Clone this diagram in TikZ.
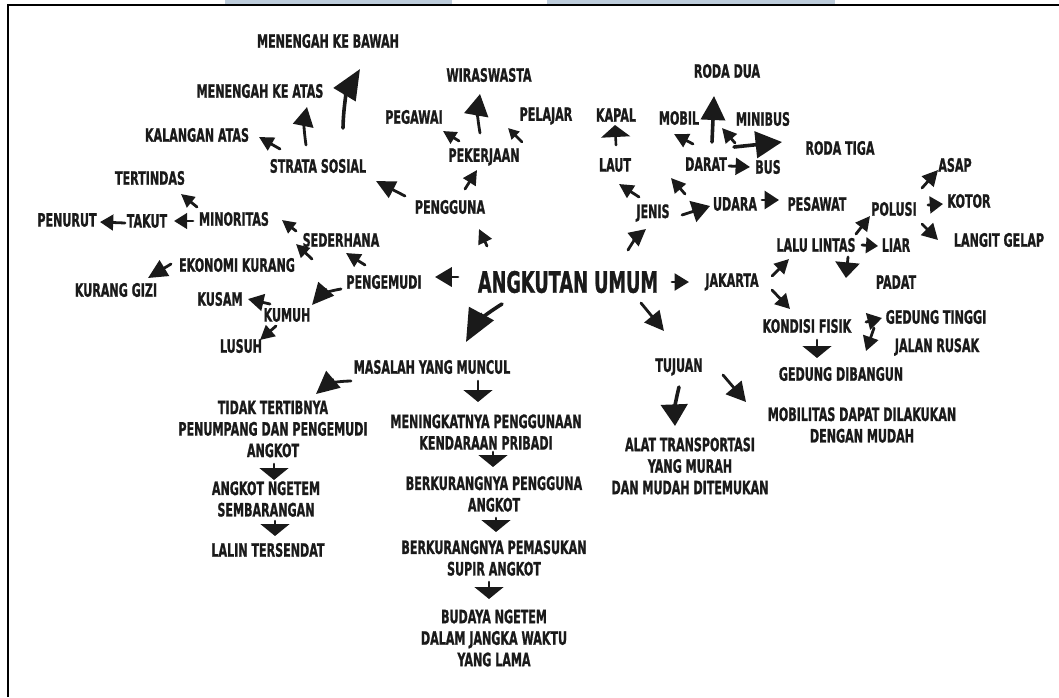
\documentclass[tikz,border=0pt]{standalone}
\usepackage{fontspec}
\newfontfamily\hand{DejaVu Sans}[FakeStretch=0.6,FakeBold=1]
\usetikzlibrary{arrows.meta}
\definecolor{ink}{HTML}{1A1A1A}
\definecolor{bar}{HTML}{BDCCDB}

\begin{document}
\begin{tikzpicture}[x=1pt,y=-1pt,
    every node/.style={font=\hand\bfseries\fontsize{18.5}{21.5}\selectfont,text=ink,align=center,inner sep=1pt},
    title/.style={font=\hand\bfseries\fontsize{29.5}{30}\selectfont},
    arw/.style args={#1/#2}{draw=ink,line width=2.8pt,line cap=round,-{Triangle[length=#1pt,width=#2pt,scale=1.2]}},
    heavy/.style={line width=3.6pt},
    flat/.style={arw=10/24,line width=2.6pt}
    ]
    \useasboundingbox (0,0) rectangle (1059,697);
    % frame
    \fill[bar] (225,0) rectangle (452,5);
    \fill[bar] (547,0) rectangle (835,5);
    \draw[line width=1.2pt] (8,697) -- (8,5) -- (1059,5);

    % centre
    \node[title] (angkutan) at (568,282) {ANGKUTAN UMUM};

    % pengguna
    \node (pengguna) at (450,207) {PENGGUNA};
    \node (pekerjaan) at (484,157) {PEKERJAAN};
    \node (wiraswasta) at (489,75) {WIRASWASTA};
    \node (pegawai) at (414,117) {PEGAWAI};
    \node (pelajar) at (546,116) {PELAJAR};
    \node (strata) at (318,166) {STRATA SOSIAL};
    \node (bawah) at (328,41) {MENENGAH KE BAWAH};
    \node (atas) at (260,91) {MENENGAH KE ATAS};
    \node (kalangan) at (197,135) {KALANGAN ATAS};

    % pengemudi
    \node (pengemudi) at (384,282) {PENGEMUDI};
    \node (sederhana) at (341,240) {SEDERHANA};
    \node (minoritas) at (234,219) {MINORITAS};
    \node (takut) at (147,221) {TAKUT};
    \node (penurut) at (67,220) {PENURUT};
    \node (tertindas) at (150,178) {TERTINDAS};
    \node (ekonomi) at (237,265) {EKONOMI KURANG};
    \node (gizi) at (116,290) {KURANG GIZI};
    \node (kumuh) at (287,315) {KUMUH};
    \node (kusam) at (220,299) {KUSAM};
    \node (lusuh) at (241,346) {LUSUH};

    % masalah
    \node (masalah) at (432,367) {MASALAH YANG MUNCUL};
    \node (tidak) at (273,429) {TIDAK TERTIBNYA\\PENUMPANG DAN PENGEMUDI\\ANGKOT};
    \node (ngetem) at (266,499) {ANGKOT NGETEM\\SEMBARANGAN};
    \node (lalin) at (268,550) {LALIN TERSENDAT};
    \node (meningkat) at (486,432) {MENINGKATNYA PENGGUNAAN\\KENDARAAN PRIBADI};
    \node (kurang1) at (494,494) {BERKURANGNYA PENGGUNA\\ANGKOT};
    \node (kurang2) at (494,558) {BERKURANGNYA PEMASUKAN\\SUPIR ANGKOT};
    \node (budaya) at (494,638) {BUDAYA NGETEM\\DALAM JANGKA WAKTU\\YANG LAMA};

    % jenis
    \node (jenis) at (653,213) {JENIS};
    \node (laut) at (615,165) {LAUT};
    \node (kapal) at (616,115) {KAPAL};
    \node (darat) at (706,164) {DARAT};
    \node (mobil) at (679,118) {MOBIL};
    \node (rodadua) at (727,71) {RODA DUA};
    \node (minibus) at (763,119) {MINIBUS};
    \node (rodatiga) at (840,148) {RODA TIGA};
    \node (bus) at (768,167) {BUS};
    \node (udara) at (735,204) {UDARA};
    \node (pesawat) at (817,204) {PESAWAT};

    % jakarta
    \node (jakarta) at (732,282) {JAKARTA};
    \node (lalulintas) at (816,245) {LALU LINTAS};
    \node (liar) at (896,245) {LIAR};
    \node (padat) at (896,282) {PADAT};
    \node (polusi) at (894,209) {POLUSI};
    \node (asap) at (955,165) {ASAP};
    \node (kotor) at (969,201) {KOTOR};
    \node (langit) at (999,240) {LANGIT GELAP};
    \node (kondisi) at (807,326) {KONDISI FISIK};
    \node (tinggi) at (936,317) {GEDUNG TINGGI};
    \node (rusak) at (937,347) {JALAN RUSAK};
    \node (dibangun) at (841,374) {GEDUNG DIBANGUN};

    % tujuan
    \node (tujuan) at (679,367) {TUJUAN};
    \node (mobilitas) at (862,425) {MOBILITAS DAPAT DILAKUKAN\\DENGAN MUDAH};
    \node (alat) at (690,466) {ALAT TRANSPORTASI\\YANG MURAH\\DAN MUDAH DITEMUKAN};

    % arrows: pengguna side
    \draw[arw=12/12] ([shift={(-81,-36)}]angkutan.center) -- ([shift={(29,22)}]pengguna.center);
    \draw[arw=12/12] ([shift={(15,-18)}]pengguna.center) -- ([shift={(-7,13)}]pekerjaan.center);
    \draw[arw=18/20] ([shift={(-4,-24)}]pekerjaan.center) to[bend left=10] ([shift={(-9,19)}]wiraswasta.center);
    \draw[arw=11/11] ([shift={(-25,-16)}]pekerjaan.center) -- ([shift={(29,14)}]pegawai.center);
    \draw[arw=9/9] ([shift={(38,-15)}]pekerjaan.center) -- ([shift={(-38,12)}]pelajar.center);
    \draw[arw=16/15] ([shift={(-45,-11)}]pengguna.center) -- ([shift={(58,15)}]strata.center);
    \draw[arw=25/21,heavy] ([shift={(25,-38)}]strata.center) to[bend left=15] ([shift={(32,28)}]bawah.center);
    \draw[arw=16/17] ([shift={(-12,-21)}]strata.center) to[bend left=10] ([shift={(47,16)}]atas.center);
    \draw[arw=12/12] ([shift={(-38,-17)}]strata.center) -- ([shift={(62,2)}]kalangan.center);

    % arrows: pengemudi side
    \draw[arw=14/16] ([shift={(-110,-5)}]angkutan.center) -- ([shift={(51,-5)}]pengemudi.center);
    \draw[arw=12/12] ([shift={(-19,-17)}]pengemudi.center) -- ([shift={(5,13)}]sederhana.center);
    \draw[arw=11/11] ([shift={(-45,-9)}]sederhana.center) -- ([shift={(48,1)}]minoritas.center);
    \draw[arw=11/13] ([shift={(-41,2)}]minoritas.center) -- ([shift={(27,0)}]takut.center);
    \draw[arw=11/13] ([shift={(-22,2)}]takut.center) -- ([shift={(33,2)}]penurut.center);
    \draw[arw=11/11] ([shift={(-37,-12)}]minoritas.center) -- ([shift={(31,16)}]tertindas.center);
    \draw[arw=11/11] ([shift={(75,-6)}]ekonomi.center) -- ([shift={(-45,4)}]sederhana.center);
    \draw[arw=16/15] ([shift={(-66,-1)}]ekonomi.center) -- ([shift={(32,-12)}]gizi.center);
    \draw[arw=18/17] ([shift={(-43,7)}]pengemudi.center) to[bend right=20] ([shift={(25,-10)}]kumuh.center);
    \draw[arw=13/14] ([shift={(-17,-11)}]kumuh.center) -- ([shift={(28,0)}]kusam.center);
    \draw[arw=12/12] ([shift={(-11,11)}]kumuh.center) -- ([shift={(19,-6)}]lusuh.center);

    % arrows: masalah
    \draw[arw=27/23,heavy] ([shift={(-66,22)}]angkutan.center) to[bend right=15] ([shift={(34,-25)}]masalah.center);
    \draw[arw=19/18] ([shift={(-81,14)}]masalah.center) to[bend right=20] ([shift={(43,-35)}]tidak.center);
    \draw[flat] ([shift={(46,14)}]masalah.center) -- ([shift={(-8,-30)}]meningkat.center);
    \draw[flat] ([shift={(1,35)}]tidak.center) -- ([shift={(8,-19)}]ngetem.center);
    \draw[flat] ([shift={(9,22)}]ngetem.center) -- ([shift={(7,-14)}]lalin.center);
    \draw[flat] ([shift={(7,20)}]meningkat.center) -- ([shift={(-1,-27)}]kurang1.center);
    \draw[flat] ([shift={(2,24)}]kurang1.center) -- ([shift={(2,-26)}]kurang2.center);
    \draw[flat] ([shift={(-5,24)}]kurang2.center) -- ([shift={(-5,-39)}]budaya.center);

    % arrows: jenis
    \draw[arw=14/14] ([shift={(60,-32)}]angkutan.center) to[bend left=10] ([shift={(-7,16)}]jenis.center);
    \draw[arw=12/12] ([shift={(-14,-16)}]jenis.center) -- ([shift={(4,19)}]laut.center);
    \draw[flat] ([shift={(1,-20)}]laut.center) -- ([shift={(-1,10)}]kapal.center);
    \draw[arw=12/12] ([shift={(32,-19)}]jenis.center) -- ([shift={(-35,14)}]darat.center);
    \draw[arw=15/18] ([shift={(29,2)}]jenis.center) -- ([shift={(-25,2)}]udara.center);
    \draw[arw=12/15] ([shift={(27,-4)}]udara.center) -- ([shift={(-38,-4)}]pesawat.center);
    \draw[arw=12/12] ([shift={(-13,-20)}]darat.center) -- ([shift={(-5,16)}]mobil.center);
    \draw[arw=20/20,heavy] ([shift={(6,-22)}]darat.center) -- ([shift={(-13,25)}]rodadua.center);
    \draw[arw=12/12] ([shift={(29,-21)}]darat.center) -- ([shift={(-41,9)}]minibus.center);
    \draw[arw=22/22,heavy] ([shift={(28,-17)}]darat.center) -- ([shift={(-58,-6)}]rodatiga.center);
    \draw[arw=12/14] ([shift={(23,2)}]darat.center) -- ([shift={(-18,0)}]bus.center);

    % arrows: jakarta
    \draw[arw=12/14] ([shift={(104,0)}]angkutan.center) -- ([shift={(-43,0)}]jakarta.center);
    \draw[arw=12/12] ([shift={(40,-6)}]jakarta.center) -- ([shift={(-27,14)}]lalulintas.center);
    \draw[arw=12/13] ([shift={(40,8)}]jakarta.center) -- ([shift={(-17,-17)}]kondisi.center);
    \draw[arw=12/12] ([shift={(40,-11)}]lalulintas.center) -- ([shift={(-24,7)}]polusi.center);
    \draw[arw=10/13] ([shift={(46,0)}]lalulintas.center) -- ([shift={(-18,1)}]liar.center);
    \draw[arw=13/20] ([shift={(32,12)}]lalulintas.center) -- ([shift={(-50,-4)}]padat.center);
    \draw[arw=13/13] ([shift={(28,-21)}]polusi.center) -- ([shift={(-17,5)}]asap.center);
    \draw[arw=11/14] ([shift={(34,-4)}]polusi.center) -- ([shift={(-26,3)}]kotor.center);
    \draw[arw=13/14] ([shift={(28,15)}]polusi.center) -- ([shift={(-61,0)}]langit.center);
    \draw[arw=12/14] ([shift={(59,-4)}]kondisi.center) -- ([shift={(-54,1)}]tinggi.center);
    \draw[arw=12/13] ([shift={(67,2)}]kondisi.center) -- ([shift={(-71,4)}]rusak.center);
    \draw[flat] ([shift={(10,14)}]kondisi.center) -- ([shift={(-24,-16)}]dibangun.center);

    % arrows: tujuan
    \draw[arw=16/16] ([shift={(73,21)}]angkutan.center) -- ([shift={(-15,-36)}]tujuan.center);
    \draw[arw=18/22,heavy] ([shift={(0,20)}]tujuan.center) to[bend right=8] ([shift={(-15,-40)}]alat.center);
    \draw[arw=16/17] ([shift={(44,8)}]tujuan.center) -- ([shift={(-116,-23)}]mobilitas.center);
\end{tikzpicture}
\end{document}
